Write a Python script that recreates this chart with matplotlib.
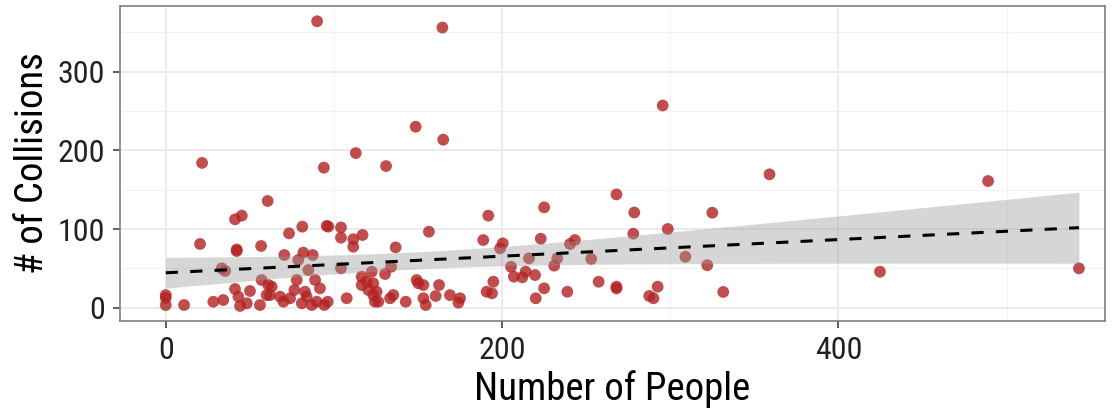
import numpy as np
import matplotlib
matplotlib.use("Agg")
import matplotlib.pyplot as plt
from matplotlib import font_manager as fm

# ---- data -------------------------------------------------------------
people = [
    90, 164.5, 21.6, 94, 113, 131, 148.6, 165, 295.5, 359, 489, 543, 424.7,
    325, 322, 331.5, 268, 278.6, 225, 191.8, 298.5, 278, 188.8, 200.4, 198.8,
    223, 240.4, 243.3, 216, 232.8, 253, 309, 231, 205.3, 207, 212, 214, 219.6,
    194.8, 190.8, 194, 225, 220, 238.8, 257.4, 268, 268, 292.5, 287.5, 290,
    169, 175, 174, 162.5,
    60.6, 41.2, 45.2, 20.4, 42.2, 42.2, 56.7, 33.3, 35.3, 0, 0, 0, 10.9, 28.3,
    34.2, 41.2, 43.2, 44.2, 50.1, 48.2, 56, 57, 61, 60,
    81.2, 73.3, 95.7, 96.7, 104.2, 104.2, 111.5, 111.5, 117, 70.5, 81.8, 87.4,
    78.8, 84.8, 104.2, 77.9, 88.8, 91.7, 76.5, 63, 62, 68, 70, 73.9, 80.9, 83.8,
    86.8, 89.8, 94.3, 96.3, 82.8, 107.6, 116.5, 122.5, 116.5, 120.5, 123.4,
    124.4, 123.4, 119.5,
    156.5, 136.7, 134, 130.4, 149.2, 150.2, 153.2, 160.5, 153.2, 154.6, 142.7,
    133.4, 135.3, 126.4, 125.4,
]
collisions = [
    364, 356, 184, 178, 196.5, 180, 230, 213.5, 257, 169.5, 161, 50, 45.7,
    120.7, 54, 20, 144, 121, 127.5, 117, 100, 94, 86, 81.8, 75.5,
    87.7, 81, 86, 62.7, 62.7, 62, 64.8, 53.4, 52, 39.4, 38.6, 45.7, 41.5,
    33, 20.3, 18.3, 24.6, 12, 20.3, 33, 26.7, 24.5, 26.7, 14.9, 12,
    16, 12, 6.4, 28.8,
    135.6, 112.3, 117, 81, 74, 72, 78.4, 50, 46.6, 16, 12.5, 3.4, 3.4, 7.6,
    9.8, 23.8, 14, 2.2, 21.2, 5.6, 3.4, 35.2, 28.8, 16,
    103, 94.5, 104, 103, 102, 89, 87, 77.5, 92.4, 67, 70, 67,
    60.6, 47.9, 50, 35.2, 35.2, 24.6, 22.5, 26.7, 16, 14, 7.6, 12, 5.6, 14,
    3.4, 7.6, 3.4, 7.6, 20.3, 12, 39.4, 45.7, 28.8, 22.5, 16.1,
    7.6, 31, 33,
    96.6, 76.7, 52, 42.8, 35.2, 31, 28.8, 14.9, 12, 3.4, 7.6,
    12, 16.1, 7.6, 20.3,
]

x_ticks = [0, 200, 400]
y_ticks = [0, 100, 200, 300]
x_minor = [100, 300, 500]
y_minor = [50, 150, 250, 350]
x_label = "Number of People"
y_label = "# of Collisions"

x = np.asarray(people, dtype=float)
y = np.asarray(collisions, dtype=float)

# ---- linear fit with 95% confidence band --------------------------------
n = len(x)
slope, intercept = np.polyfit(x, y, 1)
resid = y - (intercept + slope * x)
s = np.sqrt(np.sum(resid ** 2) / (n - 2))
sxx = np.sum((x - x.mean()) ** 2)
t_crit = 1.979
xs = np.linspace(x.min(), x.max(), 80)
fit = intercept + slope * xs
half = t_crit * s * np.sqrt(1.0 / n + (xs - x.mean()) ** 2 / sxx)

# ---- font: prefer a condensed sans ---------------------------------------
def pick_font():
    prefs = ["Roboto Condensed", "Open Sans Condensed", "DejaVu Sans Condensed",
             "Liberation Sans Narrow", "Noto Sans Condensed"]
    entries = fm.fontManager.ttflist
    for p in prefs:
        key = p.lower().replace(" ", "")
        for f in entries:
            fn = f.fname.lower().replace(" ", "").replace("-", "").replace("_", "")
            nm = (f.name + ("condensed" if "condensed" in str(f.stretch) else "")).lower().replace(" ", "")
            if key in fn and "bold" not in fn and "italic" not in fn and "oblique" not in fn:
                return fm.FontProperties(fname=f.fname)
            if key == nm and f.weight in (400, "normal", "regular") and f.style == "normal":
                return fm.FontProperties(fname=f.fname)
    return fm.FontProperties(family="DejaVu Sans", stretch="condensed")

base_font = pick_font()

def font(size):
    fp = base_font.copy()
    fp.set_size(size)
    return fp

# ---- figure --------------------------------------------------------------
fig = plt.figure(figsize=(11.2, 4.2), dpi=100)
ax = fig.add_axes([120 / 1120, 1 - 321 / 420, (1105 - 120) / 1120, (321 - 6) / 420])
ax.set_facecolor("white")

ax.set_xlim(-27.2, 558.5)
ax.set_ylim(-16.9, 383.4)

for v in x_minor:
    ax.axvline(v, color="#F2F2F2", lw=0.8, zorder=0)
for v in y_minor:
    ax.axhline(v, color="#F2F2F2", lw=0.8, zorder=0)
for v in x_ticks:
    ax.axvline(v, color="#EBEBEB", lw=1.4, zorder=0)
for v in y_ticks:
    ax.axhline(v, color="#EBEBEB", lw=1.4, zorder=0)

ax.scatter(x, y, s=72, color="#B22222", alpha=0.8, edgecolors="none", zorder=2)
ax.fill_between(xs, fit - half, fit + half, color="#999999", alpha=0.4,
                linewidth=0, zorder=3)
ax.plot(xs, fit, color="black", lw=2.2, linestyle=(0, (4, 4)), zorder=4)

ax.set_xticks(x_ticks)
ax.set_yticks(y_ticks)
ax.set_xticklabels([str(t) for t in x_ticks])
ax.set_yticklabels([str(t) for t in y_ticks])
ax.tick_params(axis="both", length=5, width=1.1, color="#333333", pad=5.5)
for lab in ax.get_xticklabels() + ax.get_yticklabels():
    lab.set_fontproperties(font(23))
    lab.set_color("#222222")

for sp in ax.spines.values():
    sp.set_color("#7F7F7F")
    sp.set_linewidth(1.2)

ax.set_xlabel(x_label, fontproperties=font(28), color="black", labelpad=4)
ax.set_ylabel(y_label, fontproperties=font(28), color="black", labelpad=5)

fig.savefig("out.png", dpi=100, facecolor="white")
